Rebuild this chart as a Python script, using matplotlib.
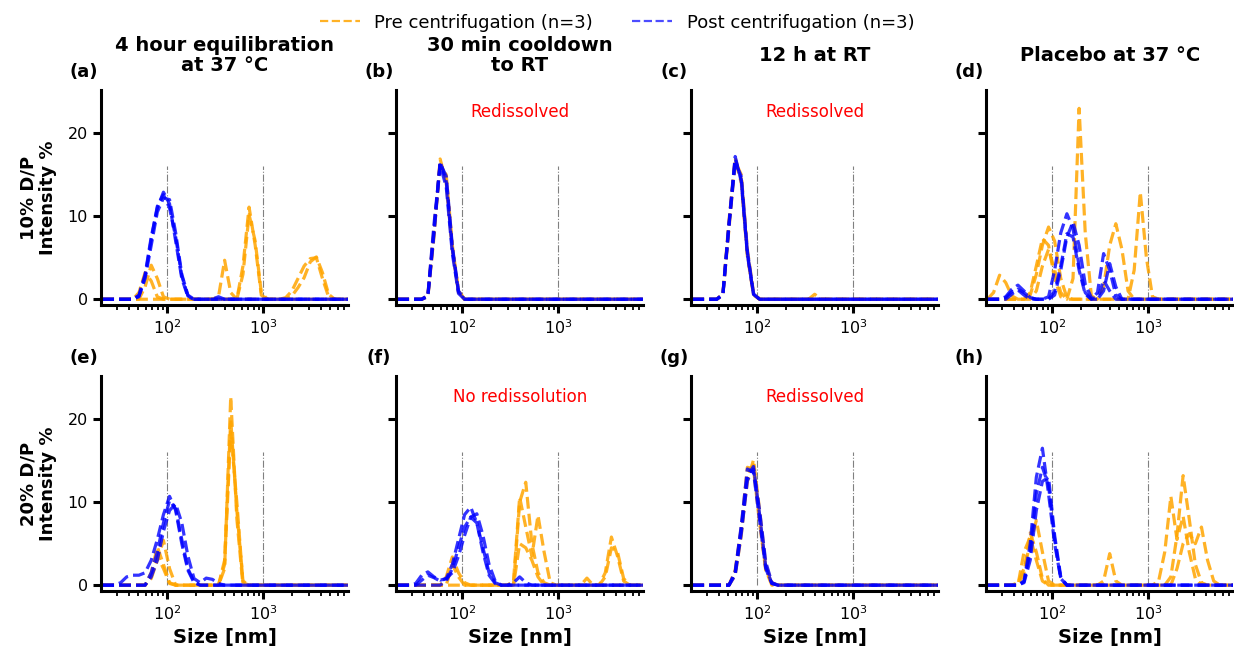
import numpy as np
import matplotlib.pyplot as plt
from matplotlib.lines import Line2D

# Zetasizer size classes (nm) that fall inside the plotted window
size_nm = [21.0, 24.4, 28.2, 32.7, 37.8, 43.8, 50.7, 58.8, 68.1, 78.8,
           91.3, 105.7, 122.4, 141.8, 164.2, 190.1, 220.2, 255.0, 295.3, 342.0,
           396.1, 458.7, 531.2, 615.1, 712.4, 825.0, 955.4, 1106, 1281, 1484,
           1718, 1990, 2305, 2669, 3091, 3580, 4145, 4801, 5560, 6439,
           7456, 8635]

# Intensity distributions, one list per replicate.
# Each replicate is a list of (first size class, intensities) runs; all other classes are 0.

# 10% D/P
pre_a = [
    [(58.8, [1.5, 4.1, 2.5, 0.3]), (615.1, [4.0, 11.1, 6.5, 0.5])],
    [(50.7, [0.8, 3.2, 2.2, 0.3]), (342.0, [0.3, 4.7, 0.8]), (1990, [0.4, 1.4, 2.6, 4.5, 5.1, 3.2, 0.6])],
    [(615.1, [3.0, 10.2, 7.0, 0.8]), (1718, [0.2, 1.0, 2.5, 4.0, 4.9, 5.0, 2.5, 0.3])],
]
post_a = [
    [(50.7, [0.5, 3.0, 7.5, 11.0, 12.9, 11.5, 7.0, 2.5, 0.3])],
    [(50.7, [0.3, 2.5, 6.5, 10.5, 12.2, 12.0, 8.0, 3.0, 0.5]), (342.0, [0.3])],
    [(50.7, [0.4, 2.8, 7.2, 11.2, 12.6, 11.0, 7.5, 2.8, 0.4])],
]
pre_b = [
    [(43.8, [0.3, 7.5, 16.9, 14.0, 6.0, 1.0])],
    [(43.8, [0.5, 8.5, 16.0, 15.0, 6.5, 1.0])],
    [(43.8, [0.4, 8.0, 16.5, 14.5, 6.2, 0.8])],
]
post_b = [
    [(43.8, [0.4, 8.2, 16.6, 14.2, 6.0, 0.9])],
    [(43.8, [0.5, 9.0, 16.2, 13.5, 5.5, 0.7])],
    [(43.8, [0.3, 7.8, 16.4, 14.8, 6.4, 1.0])],
]
pre_c = [
    [(43.8, [0.6, 9.0, 17.0, 14.5, 5.5, 0.6])],
    [(43.8, [0.5, 8.5, 16.6, 15.0, 6.0, 0.8]), (396.1, [0.6])],
    [(43.8, [0.7, 9.5, 16.8, 14.0, 5.2, 0.5])],
]
post_c = [
    [(43.8, [0.6, 9.2, 17.2, 14.2, 5.4, 0.6])],
    [(43.8, [0.5, 8.8, 16.5, 14.8, 5.8, 0.7])],
    [(43.8, [0.6, 9.0, 16.9, 14.4, 5.5, 0.6])],
]
pre_d = [
    [(24.4, [0.8, 2.9, 2.0, 0.4]), (58.8, [0.5, 3.0, 6.5, 8.7, 7.0, 2.5, 0.2]),
     (342.0, [1.5, 6.5, 9.1, 6.0, 1.0])],
    [(58.8, [0.8, 4.0, 7.3, 6.5, 2.5, 0.3]), (164.2, [2.5, 23.0, 8.0, 0.4])],
    [(68.1, [1.0, 4.0, 6.0, 3.5, 0.8]), (712.4, [3.5, 12.9, 5.0, 0.3])],
]
post_d = [
    [(32.7, [0.3, 1.2, 1.7, 1.0, 0.2]), (91.3, [0.3, 3.5, 8.0, 10.3, 8.5, 4.0, 0.8]),
     (295.3, [0.8, 5.5, 3.5, 0.5])],
    [(37.8, [0.6, 1.2, 0.8, 0.2]), (105.7, [0.5, 3.5, 7.5, 9.3, 6.5, 1.8, 0.2]),
     (342.0, [1.0, 4.3, 1.5])],
    [(32.7, [0.2, 0.9, 1.1, 0.5]), (105.7, [1.0, 4.0, 7.9, 7.5, 3.5, 0.6]),
     (342.0, [2.3, 1.0])],
]

# 20% D/P
pre_e = [
    [(68.1, [0.8, 3.0, 5.4, 2.0]), (396.1, [2.0, 22.7, 8.0])],
    [(68.1, [1.5, 4.6, 2.5, 0.3]), (396.1, [3.0, 20.0, 9.0, 0.5])],
    [(68.1, [1.0, 3.5, 2.0, 0.2]), (396.1, [2.5, 18.5, 10.0, 0.3])],
]
post_e = [
    [(32.7, [0.3, 1.0, 1.2, 1.2, 1.5, 3.0, 5.5, 8.5, 10.7, 9.0, 5.0, 1.8, 0.3])],
    [(68.1, [1.0, 3.0, 6.5, 9.0, 9.8, 7.5, 3.5, 0.8, 0.3, 0.85, 0.7, 0.2])],
    [(68.1, [1.5, 4.0, 7.5, 10.2, 9.2, 5.5, 2.0, 0.4])],
]
pre_f = [
    [(68.1, [1.0, 3.4, 1.5, 0.3]), (396.1, [10.0, 12.4, 5.0, 1.5, 0.3]),
     (3091, [1.5, 5.8, 3.5, 0.5])],
    [(342.0, [0.5, 10.6, 7.0, 3.5, 8.4, 4.0, 0.3]), (1990, [0.85])],
    [(78.8, [2.5, 1.0]), (396.1, [5.0, 4.5, 3.0, 1.0]), (3091, [1.0, 4.5, 4.0, 0.8])],
]
post_f = [
    [(32.7, [0.2, 1.2, 1.6, 1.0, 0.6, 0.8, 2.5, 5.5, 8.5, 9.4, 7.5, 4.0, 1.2, 0.2])],
    [(37.8, [0.6, 1.2, 0.9, 0.5, 0.8, 1.5, 3.5, 6.0, 8.2, 8.6, 6.0, 2.5, 0.5]),
     (342.0, [0.3, 1.0, 0.3])],
    [(68.1, [0.5, 2.0, 4.5, 7.0, 8.2, 7.5, 4.5, 1.5, 0.3])],
]
pre_g = [
    [(58.8, [1.5, 6.5, 12.5, 15.1, 9.0, 2.5, 0.3])],
    [(58.8, [1.2, 6.0, 13.5, 14.5, 8.0, 2.0, 0.2])],
    [(58.8, [1.8, 7.0, 14.2, 14.0, 7.5, 1.8])],
]
post_g = [
    [(58.8, [1.5, 6.8, 13.2, 14.3, 8.5, 2.2, 0.2])],
    [(58.8, [1.2, 6.2, 12.6, 14.0, 9.0, 2.8, 0.3])],
    [(58.8, [1.6, 7.2, 14.0, 13.6, 7.8, 2.0, 0.2])],
]
pre_h = [
    [(43.8, [0.3, 2.0, 5.0, 7.8, 4.0, 0.5]), (342.0, [0.5, 3.8, 0.5]),
     (1718, [1.0, 6.0, 13.2, 8.0, 2.5, 0.3])],
    [(50.7, [1.5, 6.3, 4.0, 0.8]), (1281, [0.5, 4.0, 10.7, 5.5, 8.3, 4.0, 0.8])],
    [(50.7, [4.0, 5.8, 3.0, 0.5]), (1990, [2.0, 5.0, 6.2, 5.0, 7.0, 3.0, 0.5])],
]
post_h = [
    [(50.7, [0.5, 5.0, 13.0, 16.5, 11.0, 5.0, 0.8])],
    [(50.7, [0.3, 3.0, 9.0, 12.5, 13.0, 6.0, 1.0])],
    [(50.7, [0.4, 4.0, 11.0, 14.2, 12.0, 5.5, 0.8])],
]

pre_runs = [pre_a, pre_b, pre_c, pre_d, pre_e, pre_f, pre_g, pre_h]
post_runs = [post_a, post_b, post_c, post_d, post_e, post_f, post_g, post_h]

col_titles = ["4 hour equilibration\nat 37 \u00b0C", "30 min cooldown\nto RT",
              "12 h at RT", "Placebo at 37 \u00b0C"]
row_labels = ["10% D/P\nIntensity %", "20% D/P\nIntensity %"]
panel_tags = ["(a)", "(b)", "(c)", "(d)", "(e)", "(f)", "(g)", "(h)"]
notes = {1: "Redissolved", 2: "Redissolved", 5: "No redissolution", 6: "Redissolved"}

PRE_COLOR = "#ffa500"
POST_COLOR = "#0000ff"


def expand(runs):
    y = np.zeros(len(size_nm))
    for start, vals in runs:
        i = size_nm.index(start)
        y[i:i + len(vals)] = vals
    return y


plt.rcParams.update({
    "font.family": "DejaVu Sans",
    "axes.linewidth": 2.2,
    "xtick.major.width": 2.2,
    "ytick.major.width": 2.2,
    "xtick.major.size": 6,
    "ytick.major.size": 6,
    "xtick.minor.width": 1.3,
    "xtick.minor.size": 3.5,
    "xtick.labelsize": 11.5,
    "ytick.labelsize": 11.5,
})

fig, axes = plt.subplots(2, 4, figsize=(12.34, 6.48), dpi=100)
fig.subplots_adjust(left=0.082, right=0.9995, bottom=0.088, top=0.861,
                    wspace=0.194, hspace=0.33)

for k, ax in enumerate(axes.flat):
    row, col = divmod(k, 4)
    for runs in pre_runs[k]:
        ax.plot(size_nm, expand(runs), color=PRE_COLOR, ls="--", lw=2.3, alpha=0.85)
    for runs in post_runs[k]:
        ax.plot(size_nm, expand(runs), color=POST_COLOR, ls="--", lw=2.3, alpha=0.8)

    ax.vlines([100, 1000], 0, 16, colors="grey", linestyles="-.", lw=0.8, zorder=0)

    ax.set_xscale("log")
    ax.set_xlim(20.5, 7700)
    ax.set_ylim(-0.7, 25.2)
    ax.set_yticks([0, 10, 20])
    ax.spines["top"].set_visible(False)
    ax.spines["right"].set_visible(False)
    if col > 0:
        ax.tick_params(axis="y", labelleft=False)
    else:
        ax.set_ylabel(row_labels[row], fontsize=13, fontweight="bold", linespacing=1.1)
        ax.yaxis.set_label_coords(-0.18, 0.5)
    if row == 0:
        # column headings, centred vertically above the top row
        ax.text(0.5, 1.16, col_titles[col], transform=ax.transAxes, fontsize=14,
                fontweight="bold", ha="center", va="center", linespacing=1.05)
    else:
        ax.set_xlabel("Size [nm]", fontsize=14, fontweight="bold")

    ax.text(-0.07, 1.085, panel_tags[k], transform=ax.transAxes, fontsize=13,
            fontweight="bold", ha="center", va="center")
    if k in notes:
        ax.text(0.5, 0.9, notes[k], transform=ax.transAxes, color="red",
                fontsize=12, ha="center", va="center")

handles = [Line2D([], [], color=PRE_COLOR, ls="--", lw=1.6, alpha=0.85),
           Line2D([], [], color=POST_COLOR, ls="--", lw=1.6, alpha=0.7)]
fig.legend(handles, ["Pre centrifugation (n=3)", "Post centrifugation (n=3)"],
           loc="upper center", bbox_to_anchor=(0.5, 1.004), ncol=2, frameon=False,
           fontsize=13, columnspacing=2.2, handlelength=2.2)

fig.savefig("out.png", dpi=100)
